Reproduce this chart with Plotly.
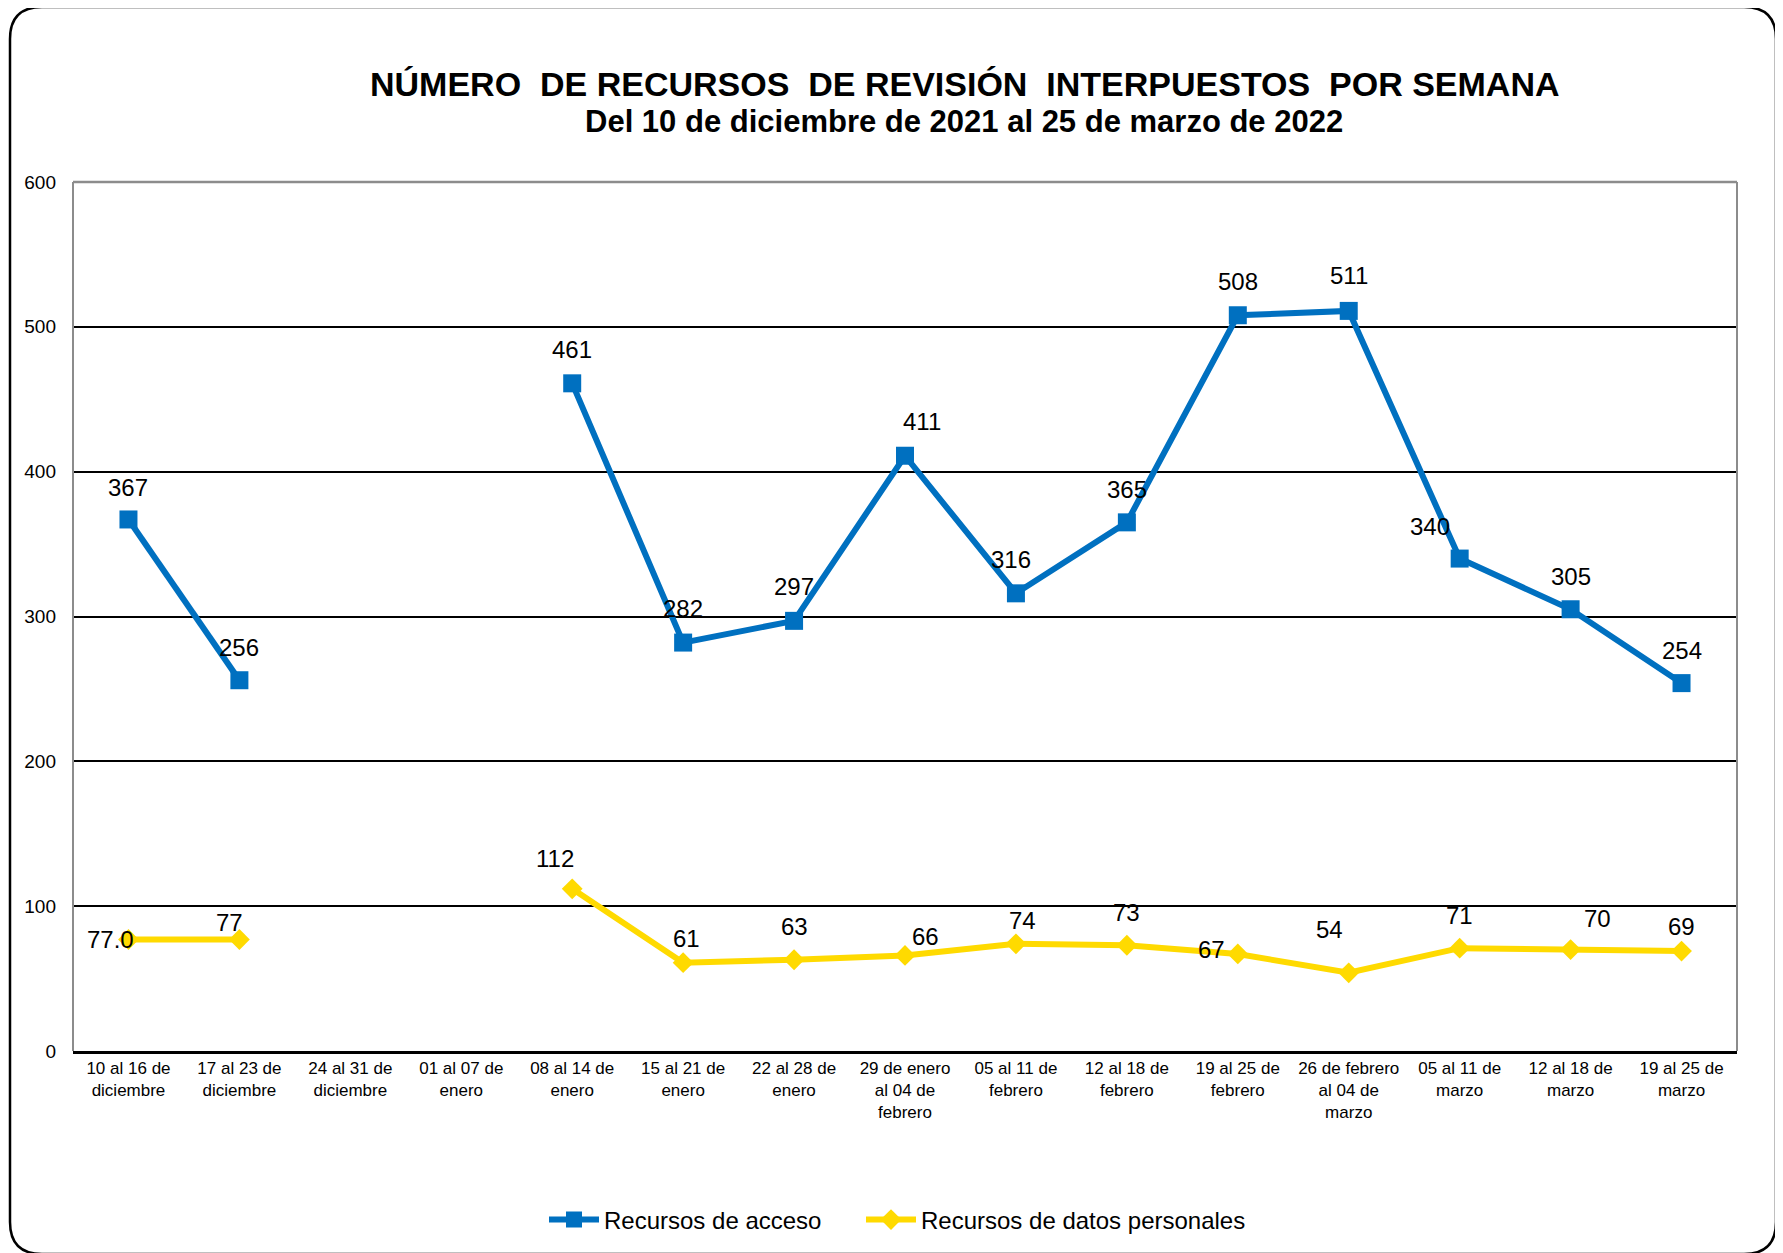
import plotly.graph_objects as go

semanas = [
    "10 al 16 de<br>diciembre", "17 al 23 de<br>diciembre", "24 al 31 de<br>diciembre",
    "01 al 07 de<br>enero", "08 al 14 de<br>enero", "15 al 21 de<br>enero",
    "22 al 28 de<br>enero", "29 de enero<br>al 04 de<br>febrero", "05 al 11 de<br>febrero",
    "12 al 18 de<br>febrero", "19 al 25 de<br>febrero", "26 de febrero<br>al 04 de<br>marzo",
    "05 al 11 de<br>marzo", "12 al 18 de<br>marzo", "19 al 25 de<br>marzo",
]
acceso = [367, 256, None, None, 461, 282, 297, 411, 316, 365, 508, 511, 340, 305, 254]
datos = [77, 77, None, None, 112, 61, 63, 66, 74, 73, 67, 54, 71, 70, 69]

# etiquetas tal como aparecen (la primera de datos personales sale con decimal)
etiq_acceso = ["" if v is None else str(v) for v in acceso]
etiq_datos = ["" if v is None else str(v) for v in datos]
etiq_datos[0] = "77.0"

# desplazamiento de cada etiqueta respecto a su punto (px)
despl_acceso = [(0, 32), (0, 33), None, None, (0, 34), (0, 34), (0, 34), (17, 34),
                (-5, 34), (0, 33), (0, 34), (0, 35), (-30, 32), (0, 33), (0, 33)]
despl_datos = [(-18, 0), (-10, 17), None, None, (-17, 30), (3, 24), (0, 33), (20, 19),
               (7, 23), (0, 33), (-26, 4), (-19, 43), (0, 33), (27, 31), (0, 25)]

AZUL = "#0070C0"
AMARILLO = "#FFDA00"
FUENTE = "Liberation Sans, Arial, sans-serif"

fig = go.Figure()
fig.add_trace(go.Scatter(
    x=semanas, y=acceso, name="Recursos de acceso",
    mode="lines+markers",
    line=dict(color=AZUL, width=6),
    marker=dict(symbol="square", size=18, color=AZUL),
    connectgaps=False, legend="legend",
))
fig.add_trace(go.Scatter(
    x=semanas, y=datos, name="Recursos de datos personales",
    mode="lines+markers",
    line=dict(color=AMARILLO, width=6),
    marker=dict(symbol="diamond", size=16, color=AMARILLO),
    connectgaps=False, legend="legend2",
))

etiquetas = []
for valores, textos, despl in [(acceso, etiq_acceso, despl_acceso),
                               (datos, etiq_datos, despl_datos)]:
    for cat, v, t, d in zip(semanas, valores, textos, despl):
        if v is None:
            continue
        etiquetas.append(dict(
            x=cat, y=v, text=t, showarrow=False, xanchor="center", yanchor="middle",
            xshift=d[0], yshift=d[1], font=dict(size=24, color="black", family=FUENTE),
        ))

# la página se dibuja con 8 px de margen del navegador
OFF = 8
W, H = 1783, 1253
ml, mr, mt, mb = 65, 54, 174, 210
pw, ph = W - ml - mr, H - mt - mb


def px(x):
    return (x - OFF - ml) / pw


def py(y):
    return (H + OFF - mb - y) / ph


# marco exterior redondeado
x0, x1, y0, y1 = px(10), px(1776), py(7), py(1254)
rx, ry = 32 / pw, 32 / ph
marco = (f"M {x0+rx},{y0} L {x1-rx},{y0} Q {x1},{y0} {x1},{y0-ry} "
         f"L {x1},{y1+ry} Q {x1},{y1} {x1-rx},{y1} L {x0+rx},{y1} "
         f"Q {x0},{y1} {x0},{y1+ry} L {x0},{y0-ry} Q {x0},{y0} {x0+rx},{y0} Z")

leyenda = dict(orientation="h", xanchor="left", yanchor="middle", itemwidth=50,
               font=dict(size=24, family=FUENTE), bgcolor="rgba(0,0,0,0)")

fig.update_layout(
    width=W, height=H,
    margin=dict(l=ml, r=mr, t=mt, b=mb),
    paper_bgcolor="white", plot_bgcolor="white",
    font=dict(family=FUENTE, color="black"),
    showlegend=True,
    legend=dict(leyenda, x=px(544), y=py(1220)),
    legend2=dict(leyenda, x=px(861), y=py(1220)),
    xaxis=dict(
        type="category", range=[-0.5, 14.5], showgrid=False,
        showline=True, linecolor="black", linewidth=2.5,
        ticks="", tickfont=dict(size=17, family=FUENTE), tickangle=0,
    ),
    yaxis=dict(
        range=[0, 600], dtick=100, showgrid=True, gridcolor="black", gridwidth=1.5,
        zeroline=False, showline=False, ticks="", ticklabelstandoff=16,
        tickfont=dict(size=19, family=FUENTE),
    ),
    shapes=[
        dict(type="path", xref="paper", yref="paper", path=marco,
             line=dict(color="black", width=2.5), layer="below"),
        dict(type="line", xref="paper", yref="paper", x0=0, x1=1, y0=1, y1=1,
             line=dict(color="#8c8c8c", width=2.5), layer="above"),
        dict(type="line", xref="paper", yref="paper", x0=0, x1=0, y0=0, y1=1,
             line=dict(color="#8c8c8c", width=2), layer="above"),
        dict(type="line", xref="paper", yref="paper", x0=1, x1=1, y0=0, y1=1,
             line=dict(color="#8c8c8c", width=2), layer="above"),
    ],
    annotations=[
        dict(text="<b>NÚMERO  DE RECURSOS  DE REVISIÓN  INTERPUESTOS  POR SEMANA</b>",
             xref="paper", yref="paper", x=px(965), y=py(84), showarrow=False,
             xanchor="center", yanchor="middle", font=dict(size=34, family=FUENTE)),
        dict(text="<b>Del 10 de diciembre de 2021 al 25 de marzo de 2022</b>",
             xref="paper", yref="paper", x=px(964), y=py(122), showarrow=False,
             xanchor="center", yanchor="middle", font=dict(size=31, family=FUENTE)),
    ] + etiquetas,
)

fig.write_html("out.html")
